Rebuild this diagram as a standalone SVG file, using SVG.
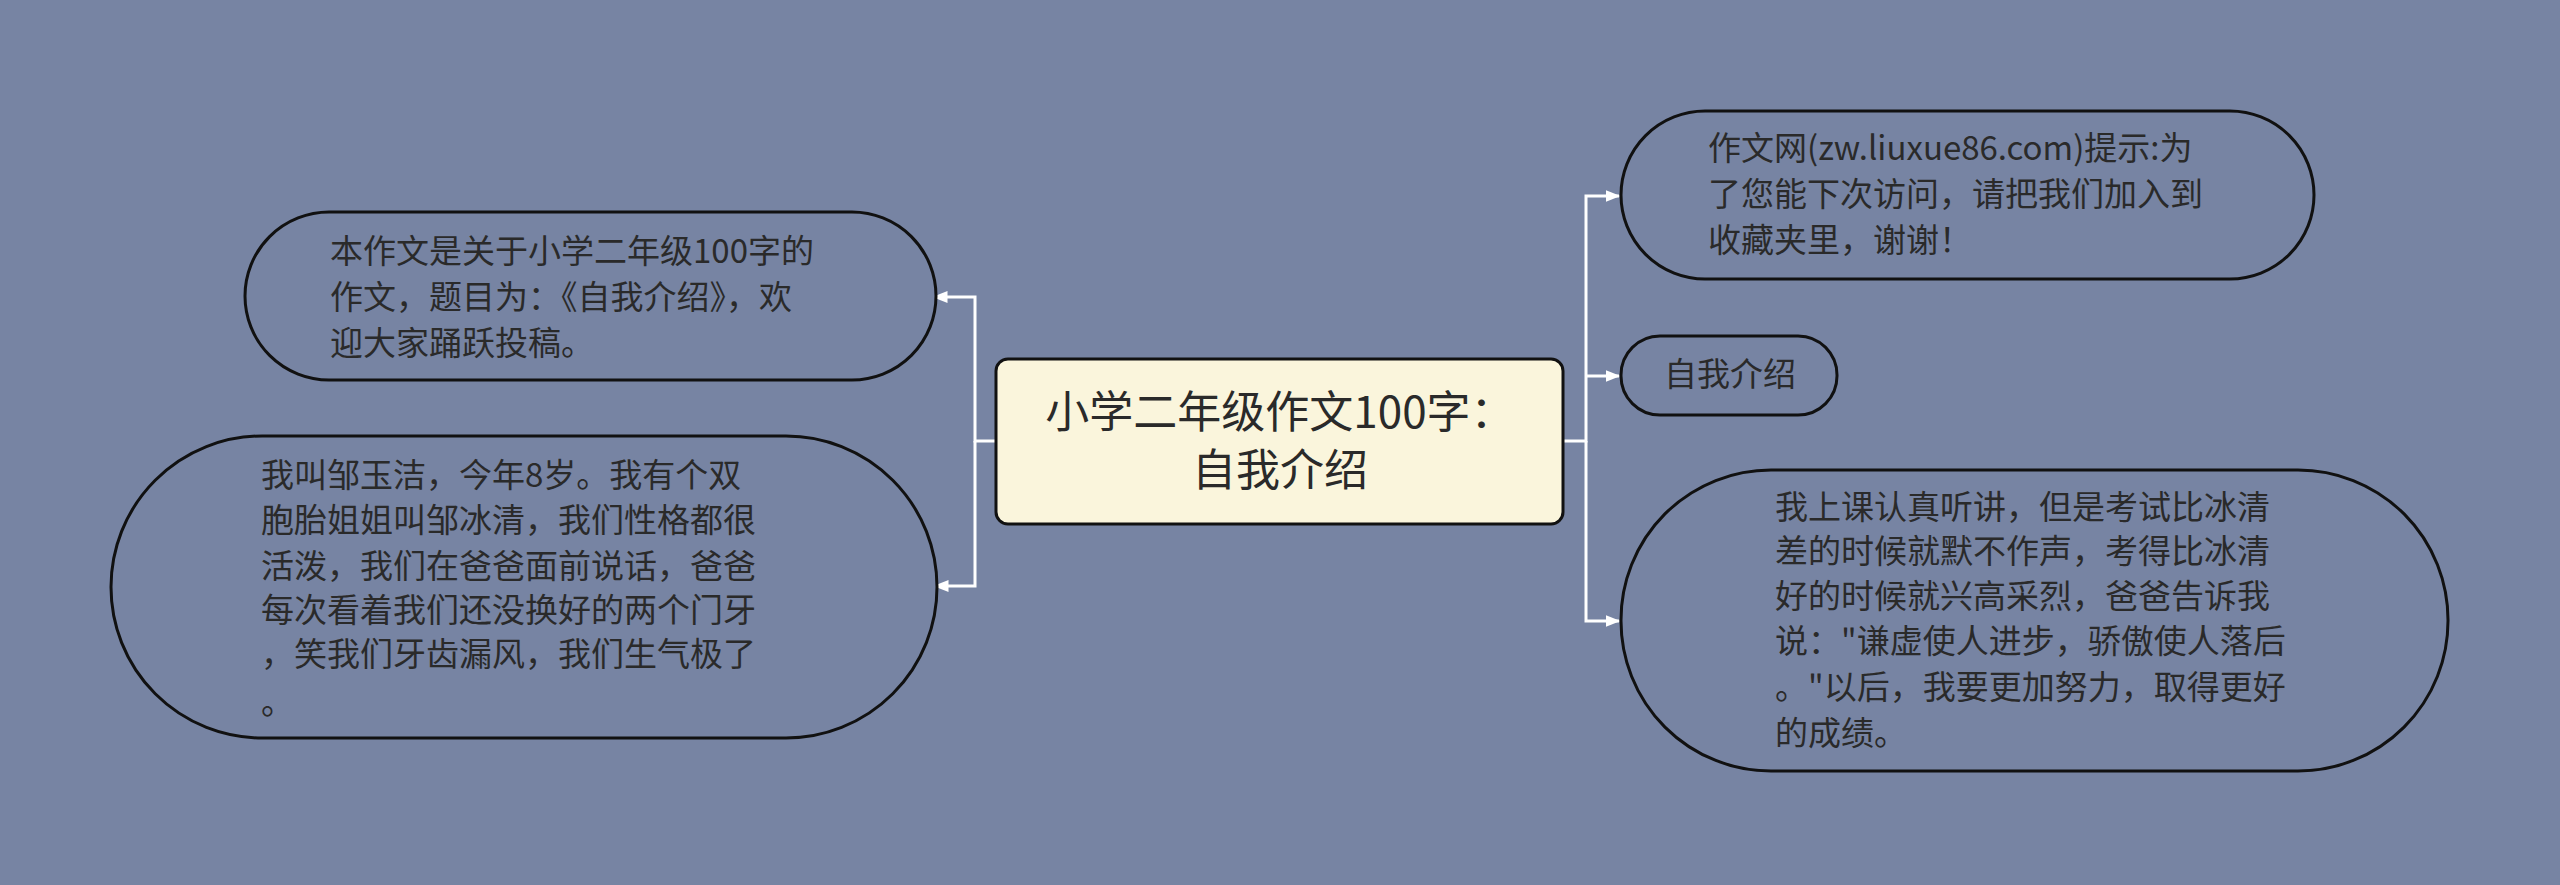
<svg xmlns="http://www.w3.org/2000/svg" width="2560" height="885" viewBox="0 0 2560 885">
<defs>
<marker id="ar" viewBox="0 0 10 10" refX="9" refY="5" markerWidth="5" markerHeight="5" orient="auto"><path d="M0,1 L10,5 L0,9 z" fill="#fff"/></marker>
<style>
.n{fill:#7784a3;stroke:#111;stroke-width:3}
.t{font-family:"Noto Sans CJK SC","Liberation Sans",sans-serif;font-size:33px;fill:#2a2a2a}
.c{fill:none;stroke:#fff;stroke-width:3}
</style>
</defs>
<rect width="2560" height="885" fill="#7784a3"/>
<g id="connectors">
<path class="c" d="M996,441 H975 V297 H934" marker-end="url(#ar)"/>
<path class="c" d="M975,441 V586 H935" marker-end="url(#ar)"/>
<path class="c" d="M1563,441 H1586 V196 H1619" marker-end="url(#ar)"/>
<path class="c" d="M1586,376 H1619" marker-end="url(#ar)"/>
<path class="c" d="M1586,441 V621 H1619" marker-end="url(#ar)"/>
</g>
<g id="center">
<rect x="996" y="359" width="567" height="165" rx="12" fill="#faf5dc" stroke="#111" stroke-width="3"/>
<text class="t" style="font-size:44px" x="1280" y="428" text-anchor="middle">小学二年级作文100字：</text>
<text class="t" style="font-size:44px" x="1280" y="486" text-anchor="middle">自我介绍</text>
</g>
<g id="left1">
<rect class="n" x="245" y="212" width="691" height="168" rx="84"/>
<text class="t" x="330" y="263">本作文是关于小学二年级100字的</text>
<text class="t" x="330" y="309">作文，题目为：《自我介绍》，欢</text>
<text class="t" x="330" y="355">迎大家踊跃投稿。</text>
</g>
<g id="left2">
<rect class="n" x="111" y="436" width="826" height="302" rx="151"/>
<text class="t" x="261" y="487">我叫邹玉洁，今年8岁。我有个双</text>
<text class="t" x="261" y="532">胞胎姐姐叫邹冰清，我们性格都很</text>
<text class="t" x="261" y="578">活泼，我们在爸爸面前说话，爸爸</text>
<text class="t" x="261" y="622">每次看着我们还没换好的两个门牙</text>
<text class="t" x="261" y="666">，笑我们牙齿漏风，我们生气极了</text>
<text class="t" x="261" y="714">。</text>
</g>
<g id="right1">
<rect class="n" x="1621" y="111" width="693" height="168" rx="84"/>
<text class="t" x="1708" y="160">作文网(zw.liuxue86.com)提示:为</text>
<text class="t" x="1708" y="206">了您能下次访问，请把我们加入到</text>
<text class="t" x="1708" y="252">收藏夹里，谢谢！</text>
</g>
<g id="right2">
<rect class="n" x="1621" y="336" width="216" height="79" rx="39"/>
<text class="t" x="1664" y="386">自我介绍</text>
</g>
<g id="right3">
<rect class="n" x="1621" y="470" width="827" height="301" rx="150"/>
<text class="t" x="1775" y="519">我上课认真听讲，但是考试比冰清</text>
<text class="t" x="1775" y="563">差的时候就默不作声，考得比冰清</text>
<text class="t" x="1775" y="608">好的时候就兴高采烈，爸爸告诉我</text>
<text class="t" x="1775" y="653">说："谦虚使人进步，骄傲使人落后</text>
<text class="t" x="1775" y="699">。"以后，我要更加努力，取得更好</text>
<text class="t" x="1775" y="745">的成绩。</text>
</g>
</svg>
